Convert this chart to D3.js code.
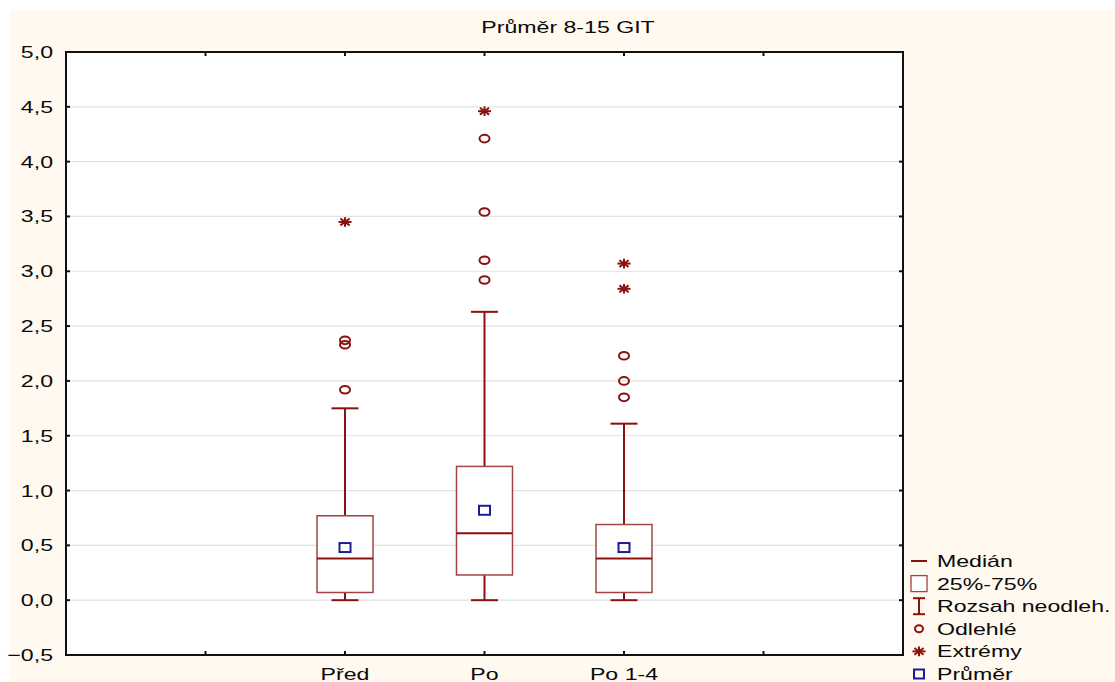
<!DOCTYPE html>
<html lang="cs">
<head>
<meta charset="UTF-8">
<title>Průměr 8-15 GIT</title>
<script src="https://d3js.org/d3.v7.min.js"></script>
<style>
  body { margin: 0; background: #fff; }
  svg { display: block; font-family: "Liberation Sans", Arial, sans-serif; }
</style>
</head>
<body>
<svg width="1115" height="682"></svg>
<script>
// --- data ---
var groups   = ["Před", "Po", "Po 1-4"];
var mins     = [0.0, 0.0, 0.0];
var q1s      = [0.07, 0.23, 0.07];
var medians  = [0.38, 0.61, 0.38];
var q3s      = [0.77, 1.22, 0.69];
var maxs     = [1.75, 2.63, 1.61];
var means    = [0.48, 0.82, 0.48];
var outliers = [[1.92, 2.33, 2.37], [2.92, 3.10, 3.54, 4.21], [1.85, 2.00, 2.23]];
var extremes = [[3.45], [4.46], [2.84, 3.07]];
var yTicks   = [-0.5, 0, 0.5, 1, 1.5, 2, 2.5, 3, 3.5, 4, 4.5, 5];
var legendLabels = ["Medián", "25%-75%", "Rozsah neodleh.", "Odlehlé", "Extrémy", "Průměr"];

var red = "#8b1111", boxRed = "#a04444", blue = "#1c1c96";
var sx = 1.36; // picture is stretched horizontally

var svg = d3.select("svg");
var x = d3.scaleLinear().domain([-1, 5]).range([66, 903]);
var y = d3.scaleLinear().domain([-0.5, 5]).range([655, 52]);

// stretched text helper
function label(g, tx, ty, str, anchor, size) {
  return g.append("text")
    .attr("transform", "translate(" + tx + "," + ty + ") scale(" + sx + ",1)")
    .attr("text-anchor", anchor || "start")
    .attr("font-size", size || 17)
    .attr("fill", "#0a0a0a")
    .text(str);
}

// background
svg.append("rect").attr("x", 10).attr("y", 10).attr("width", 1105).attr("height", 672).attr("fill", "#fff9ef");
svg.append("rect").attr("x", 66).attr("y", 52).attr("width", 837).attr("height", 603).attr("fill", "#fff");

// grid
svg.selectAll(".grid").data(yTicks).enter().append("line")
  .attr("x1", 66).attr("x2", 903)
  .attr("y1", function (d) { return y(d); }).attr("y2", function (d) { return y(d); })
  .attr("stroke", "#e2e2e2").attr("stroke-width", 1.2);

// frame + inner ticks
svg.append("rect").attr("x", 66).attr("y", 52).attr("width", 837).attr("height", 603)
  .attr("fill", "none").attr("stroke", "#111").attr("stroke-width", 2);
yTicks.forEach(function (t) {
  svg.append("line").attr("x1", 66).attr("x2", 70).attr("y1", y(t)).attr("y2", y(t)).attr("stroke", "#111").attr("stroke-width", 2);
  svg.append("line").attr("x1", 899).attr("x2", 903).attr("y1", y(t)).attr("y2", y(t)).attr("stroke", "#111").attr("stroke-width", 2);
  label(svg, 53, y(t) + 6, d3.format(".1f")(t).replace(".", ","), "end", 17);
});
[0, 1, 2, 3, 4].forEach(function (i) {
  svg.append("line").attr("x1", x(i)).attr("x2", x(i)).attr("y1", 52).attr("y2", 56).attr("stroke", "#111").attr("stroke-width", 2);
  svg.append("line").attr("x1", x(i)).attr("x2", x(i)).attr("y1", 651).attr("y2", 655).attr("stroke", "#111").attr("stroke-width", 2);
});
groups.forEach(function (g, i) { label(svg, x(i + 1), 680, g, "middle", 17); });

// title
label(svg, 568, 33, "Průměr 8-15 GIT", "middle", 17);

// boxes
var boxW = 56, capW = 27;
groups.forEach(function (g, i) {
  var cx = x(i + 1);
  var gg = svg.append("g");
  // whiskers
  gg.append("line").attr("x1", cx).attr("x2", cx).attr("y1", y(q3s[i])).attr("y2", y(maxs[i])).attr("stroke", red).attr("stroke-width", 2);
  gg.append("line").attr("x1", cx).attr("x2", cx).attr("y1", y(q1s[i])).attr("y2", y(mins[i])).attr("stroke", red).attr("stroke-width", 2);
  gg.append("line").attr("x1", cx - capW / 2).attr("x2", cx + capW / 2).attr("y1", y(maxs[i])).attr("y2", y(maxs[i])).attr("stroke", red).attr("stroke-width", 2);
  gg.append("line").attr("x1", cx - capW / 2).attr("x2", cx + capW / 2).attr("y1", y(mins[i])).attr("y2", y(mins[i])).attr("stroke", red).attr("stroke-width", 2);
  // box
  gg.append("rect").attr("x", cx - boxW / 2).attr("y", y(q3s[i])).attr("width", boxW).attr("height", y(q1s[i]) - y(q3s[i]))
    .attr("fill", "#fff").attr("stroke", boxRed).attr("stroke-width", 1.5);
  gg.append("line").attr("x1", cx - boxW / 2).attr("x2", cx + boxW / 2).attr("y1", y(medians[i])).attr("y2", y(medians[i])).attr("stroke", red).attr("stroke-width", 2);
  // mean
  gg.append("rect").attr("x", cx - 5.5).attr("y", y(means[i]) - 4.5).attr("width", 11).attr("height", 9)
    .attr("fill", "none").attr("stroke", blue).attr("stroke-width", 2);
  // outliers
  gg.selectAll(".o").data(outliers[i]).enter().append("ellipse")
    .attr("cx", cx).attr("cy", function (d) { return y(d); }).attr("rx", 5).attr("ry", 3.8)
    .attr("fill", "none").attr("stroke", red).attr("stroke-width", 2);
  // extremes
  extremes[i].forEach(function (v) { star(gg, cx, y(v)); });
});

function star(g, cx, cy) {
  var r = 4.8;
  [0, 45, 90, 135].forEach(function (a) {
    var dx = Math.cos(a * Math.PI / 180) * r * sx, dy = Math.sin(a * Math.PI / 180) * r;
    g.append("line").attr("x1", cx - dx).attr("x2", cx + dx).attr("y1", cy - dy).attr("y2", cy + dy)
      .attr("stroke", red).attr("stroke-width", 2);
  });
}

// legend
var leg = svg.append("g");
var ly = d3.scaleLinear().domain([0, 5]).range([561, 674]);
legendLabels.forEach(function (t, i) {
  label(leg, 937, ly(i) + 6, t, "start", 17);
});
leg.append("line").attr("x1", 911).attr("x2", 927).attr("y1", ly(0)).attr("y2", ly(0)).attr("stroke", red).attr("stroke-width", 2);
leg.append("rect").attr("x", 911).attr("y", ly(1) - 8).attr("width", 16).attr("height", 16).attr("fill", "#fff").attr("stroke", boxRed).attr("stroke-width", 1.3);
leg.append("line").attr("x1", 919).attr("x2", 919).attr("y1", ly(2) - 8).attr("y2", ly(2) + 8).attr("stroke", red).attr("stroke-width", 2);
leg.append("line").attr("x1", 913).attr("x2", 925).attr("y1", ly(2) - 8).attr("y2", ly(2) - 8).attr("stroke", red).attr("stroke-width", 2);
leg.append("line").attr("x1", 913).attr("x2", 925).attr("y1", ly(2) + 8).attr("y2", ly(2) + 8).attr("stroke", red).attr("stroke-width", 2);
leg.append("ellipse").attr("cx", 919).attr("cy", ly(3)).attr("rx", 4).attr("ry", 3.5).attr("fill", "none").attr("stroke", red).attr("stroke-width", 2);
star(leg, 919, ly(4));
leg.append("rect").attr("x", 914).attr("y", ly(5) - 4.5).attr("width", 10).attr("height", 9).attr("fill", "none").attr("stroke", blue).attr("stroke-width", 2);
</script>
</body>
</html>
